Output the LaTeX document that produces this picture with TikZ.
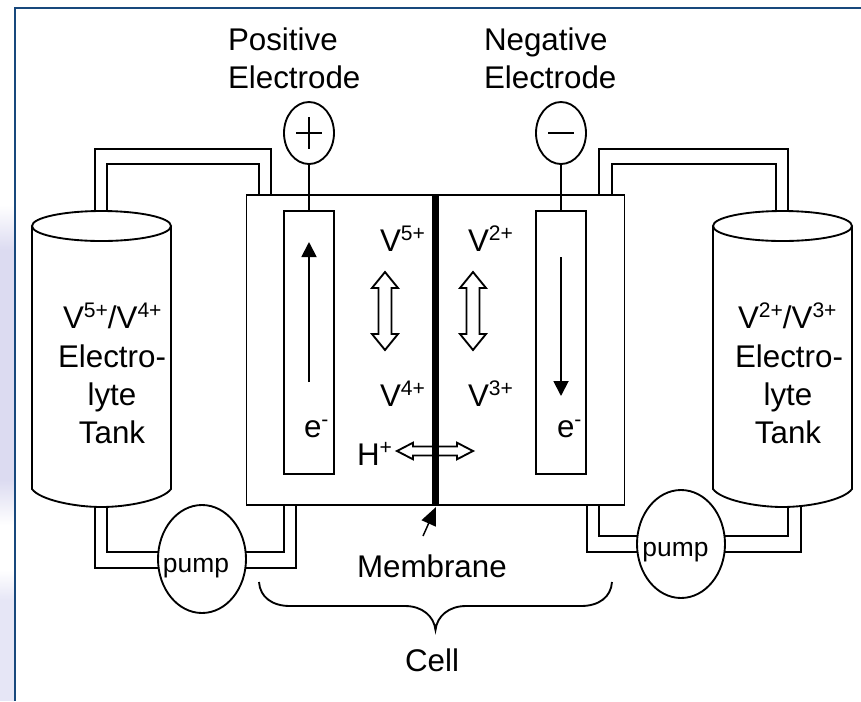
\documentclass[tikz,border=0pt]{standalone}
\usepackage{fontspec}
\setmainfont{Liberation Sans}
\usetikzlibrary{arrows.meta,shapes.geometric,calc}
\definecolor{framecol}{RGB}{24,72,124}
\definecolor{lav}{RGB}{220,219,241}
\definecolor{lavb}{RGB}{230,230,246}
\newcommand{\ionup}[1]{\raisebox{8.2pt}{\fontsize{15.8}{16}\selectfont #1}}
\newcommand{\vdoublearrow}[1]{\draw[ln,fill=white] ($(#1)+(0,-39)$) -- ++(13,16) -- ++(-6.5,0) -- ++(0,46) -- ++(6.5,0) -- ++(-13,16) -- ++(-13,-16) -- ++(6.5,0) -- ++(0,-46) -- ++(-6.5,0) -- cycle;}
\newcommand{\hdoublearrow}[1]{\draw[ln,fill=white] ($(#1)+(-38,0)$) -- ++(16,-8.3) -- ++(0,3.8) -- ++(44,0) -- ++(0,-3.8) -- ++(16,8.3) -- ++(-16,8.3) -- ++(0,-3.8) -- ++(-44,0) -- ++(0,3.8) -- cycle;}
\tikzset{
  ln/.style={line width=1.4pt,line join=miter},
  lbl/.style={anchor=base west,inner sep=0pt,outer sep=0pt,font=\fontsize{23.5}{28}\selectfont},
  lblc/.style={anchor=base,inner sep=0pt,outer sep=0pt,font=\fontsize{23.5}{28}\selectfont},
  pumplbl/.style={anchor=base,inner sep=0pt,outer sep=0pt,font=\fontsize{19.8}{24}\selectfont},
  boxn/.style={draw,ln,rectangle,inner sep=0pt,outer sep=0pt},
  ell/.style={draw,ln,ellipse,fill=white,inner sep=0pt,outer sep=0pt},
  pumpn/.style={ell,minimum width=66pt,minimum height=81pt},
  termn/.style={ell,minimum width=37.5pt,minimum height=46.5pt},
  tanktop/.style={ell,minimum width=104.25pt,minimum height=22.5pt},
  eflow/.style={ln,-{Triangle[length=11.25pt,width=11.25pt]}},
}
\begin{document}
\begin{tikzpicture}[x=0.75pt,y=-0.75pt]
\useasboundingbox (0,0) rectangle (861,701);
% background strip
\fill[white] (0,0) rectangle (861,701);
\shade[top color=white,bottom color=lav,draw=none] (0,205) rectangle (14,250);
\fill[lav] (0,250) rectangle (14,480);
\shade[top color=lav,bottom color=white,draw=none] (0,480) rectangle (14,525);
\shade[top color=white,bottom color=lavb,draw=none] (0,570) rectangle (14,600);
\fill[lavb] (0,600) rectangle (14,701);
\draw[framecol,line width=1.6pt] (861,8) -- (15,8) -- (15,701);

% main boxes
\node[boxn,minimum width=283.5pt,minimum height=232.5pt] (cell) at (435.5,350) {};
\node[boxn,minimum width=37.5pt,minimum height=197.25pt] (elecL) at (309,342.5) {};
\node[boxn,minimum width=37.5pt,minimum height=197.25pt] (elecR) at (561,342.5) {};

% named pipe ends
\coordinate (LTo) at (95,219); \coordinate (LTi) at (107,219);
\coordinate (CTLo) at (271,195); \coordinate (CTLi) at (259,195);
\coordinate (CTRo) at (599,195); \coordinate (CTRi) at (612,195);
\coordinate (RTo) at (788,219); \coordinate (RTi) at (776,219);
\coordinate (LBo) at (95,500); \coordinate (LBi) at (107,500);
\coordinate (CBLo) at (296,505); \coordinate (CBLi) at (284,505);
\coordinate (CBRi) at (599,505); \coordinate (CBRo) at (587,505);
\coordinate (RBi) at (788,500); \coordinate (RBo) at (801,500);

% pipes
\draw[ln] (LTo) |- (CTLo |- 0,149) -- (CTLo);
\draw[ln] (LTi) |- (CTLi |- 0,164) -- (CTLi);
\draw[ln] (CTRo) |- (RTo |- 0,149) -- (RTo);
\draw[ln] (CTRi) |- (RTi |- 0,164) -- (RTi);
\draw[ln] (LBo) |- (CBLo |- 0,568) -- (CBLo);
\draw[ln] (LBi) |- (CBLi |- 0,552) -- (CBLi);
\draw[ln] (CBRi) |- (RBi |- 0,536) -- (RBi);
\draw[ln] (CBRo) |- (RBo |- 0,552) -- (RBo);

% tanks
\draw[ln,fill=white] (32,226) -- (32,489) .. controls (40,500) and (75,507) .. (101.5,507) .. controls (128,507) and (163,500) .. (171,489) -- (171,226);
\draw[ln,fill=white] (713,226) -- (713,489) .. controls (721,500) and (756,507) .. (782.5,507) .. controls (809,507) and (844,500) .. (852,489) -- (852,226);
\node[tanktop] (tankLtop) at (101.5,226) {};
\node[tanktop] (tankRtop) at (782.5,226) {};

% pumps and terminals
\node[pumpn] (pumpL) at (202,559) {};
\node[pumpn] (pumpR) at (681,544) {};
\node[termn] (plusT) at (309,133) {};
\node[termn] (minusT) at (561,133) {};
\draw[ln] (plusT) -- (elecL);
\draw[ln] (minusT) -- (elecR);
\draw[ln] ([xshift=-9.75pt]plusT.center) -- ([xshift=9.75pt]plusT.center);
\draw[ln] ([yshift=12pt]plusT.center) -- ([yshift=-12pt]plusT.center);
\draw[ln] ([xshift=-9.75pt]minusT.center) -- ([xshift=9.75pt]minusT.center);

% electron arrows
\coordinate (eLs) at (309,382); \coordinate (eLe) at (309,242);
\coordinate (eRs) at (561,257); \coordinate (eRe) at (561,396);
\draw[eflow] (eLs) -- (eLe);
\draw[eflow] (eRs) -- (eRe);

% ion arrows
\coordinate (dblL) at (385,311);
\coordinate (dblR) at (473,311);
\coordinate (dblH) at (435,451);
\vdoublearrow{dblL}
\vdoublearrow{dblR}
\hdoublearrow{dblH}

% membrane
\draw[line width=4.6pt] (cell.north) -- (cell.south);
\coordinate (memTail) at (423,536);
\coordinate (memTip) at (436,507);
\draw[line width=1.1pt,-{Triangle[length=13.5pt,width=11.5pt]}] (memTail) -- (memTip);

% brace
\coordinate (brL) at (259,582); \coordinate (brR) at (612,582); \coordinate (brT) at (435.5,630);
\draw[ln] (brL) .. controls (260,597) and (272,606) .. (290,606) -- (405,606)
  .. controls (422,606) and (434,616) .. (brT)
  .. controls (437,616) and (449,606) .. (466,606) -- (581,606)
  .. controls (599,606) and (611,597) .. (brR);

% labels
\node[lbl] (tPos1) at (228,50) {Positive};
\node[lbl] (tPos2) at (228,88) {Electrode};
\node[lbl] (tNeg1) at (484,50) {Negative};
\node[lbl] (tNeg2) at (484,88) {Electrode};
\node[lbl] (v5) at (380,251) {V\ionup{5+}};
\node[lbl] (v2) at (468,251) {V\ionup{2+}};
\node[lbl] (v4) at (380,406) {V\ionup{4+}};
\node[lbl] (v3) at (468,406) {V\ionup{3+}};
\node[lbl] (hp) at (357,465) {H\ionup{+}};
\node[lbl] (em1) at (304,437) {e\ionup{-}};
\node[lbl] (em2) at (557,437) {e\ionup{-}};
\node[lbl] (tMem) at (357,577) {Membrane};
\node[lbl] (tCell) at (405,671) {Cell};
\node[lbl] (tL1) at (63,328) {V\ionup{5+}/V\ionup{4+}};
\node[lblc] (tL2) at (112,367) {Electro-};
\node[lblc] (tL3) at (112,405) {lyte};
\node[lblc] (tL4) at (112,443) {Tank};
\node[lbl] (tR1) at (738,328) {V\ionup{2+}/V\ionup{3+}};
\node[lblc] (tR2) at (789,367) {Electro-};
\node[lblc] (tR3) at (788,405) {lyte};
\node[lblc] (tR4) at (788,443) {Tank};
\node[pumplbl] (pL) at (196,572) {pump};
\node[pumplbl] (pR) at (675.5,556) {pump};
\end{tikzpicture}
\end{document}
